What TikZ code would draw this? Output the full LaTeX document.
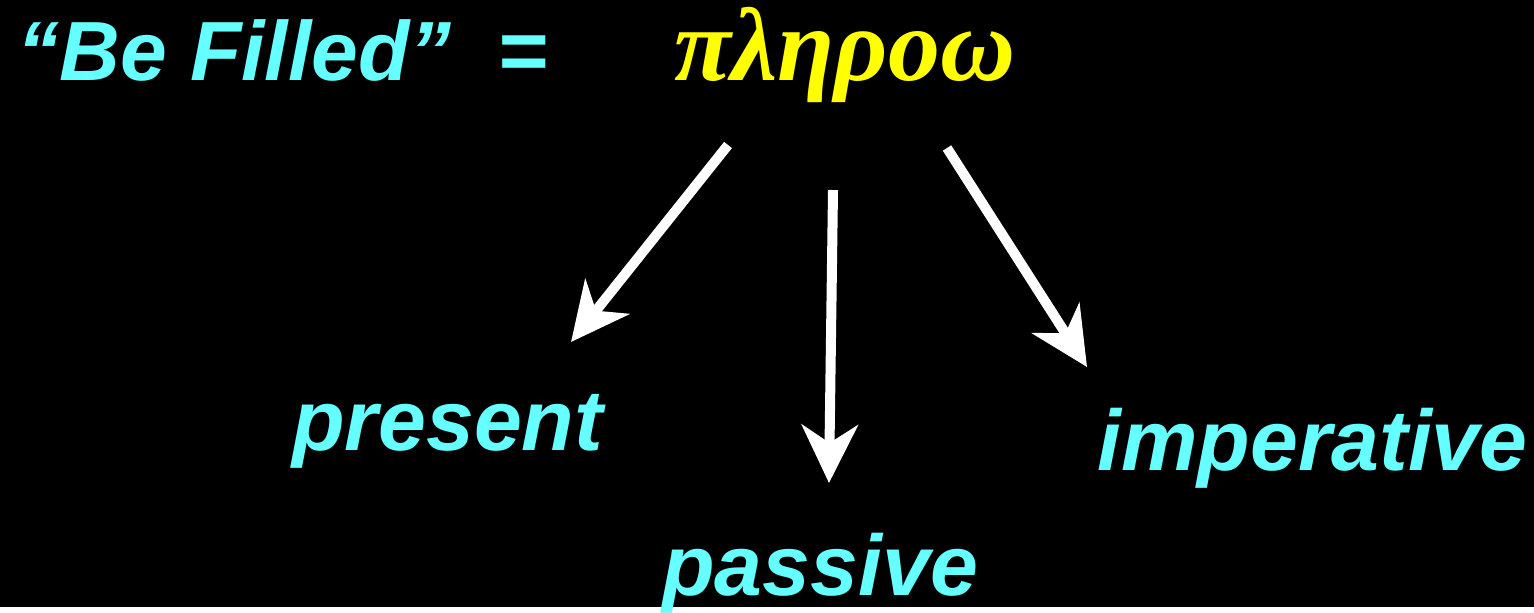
\documentclass[tikz,border=0pt]{standalone}
\usepackage{fontspec}
\setmainfont{Liberation Sans}
\newfontfamily\greekfont{Liberation Serif}
\usetikzlibrary{arrows.meta,positioning}
\definecolor{w-color}{HTML}{66FFFF}
\definecolor{g-color}{HTML}{FFFF00}

\begin{document}
\begin{tikzpicture}[x=0.5pt, y=-0.5pt,
                >={Stealth[length=29pt,width=28pt,inset=9pt]},
                every node/.append style={inner sep=0pt, anchor=base west},
                word/.style={font=\fontsize{43}{50}\selectfont\bfseries\itshape, text=w-color},
                arr/.style={->, white, line width=5pt}]

               \fill[black] (0,0) rectangle (1534,607);

               \node [word, font=\fontsize{42}{49}\selectfont\bfseries\itshape] (BF) at (17,80) {“Be Filled”};
               \node [word] (eq) at (497,80) {=};
               \node [font=\fontsize{52}{60}\selectfont\greekfont\bfseries\itshape, text=g-color] (G) at (674,80) {πληροω};

               \node [word] (pres) at (292,450) {present};
               \node [word] (pass) at (662,595) {passive};
               \node [word] (imp)  at (1097,470) {imperative};

               \coordinate (a1) at (728,145);
               \coordinate (a2) at (833,190);
               \coordinate (a3) at (947,148);
               \coordinate (b1) at (571,342);
               \coordinate (b2) at (829,483);
               \coordinate (b3) at (1087,367);
               \path[arr] (a1) edge (b1)
                          (a2) edge (b2)
                          (a3) edge (b3);
        \end{tikzpicture}
\end{document}
